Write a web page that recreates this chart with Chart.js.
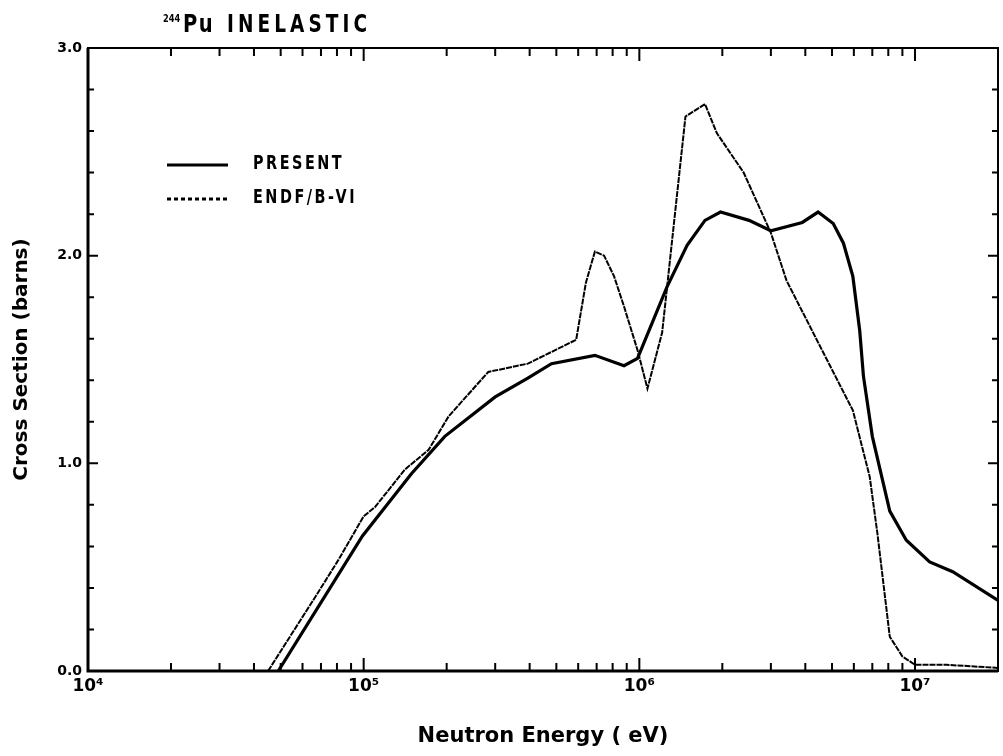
<!DOCTYPE html>
<html>
<head>
<meta charset="utf-8">
<script src="https://cdn.jsdelivr.net/npm/chart.js@4.4.1/dist/chart.umd.min.js"></script>
<style>
  html, body { margin: 0; padding: 0; background: #fff; }
  #wrap { width: 1003px; height: 756px; position: relative; }
</style>
</head>
<body>
<div id="wrap"><canvas id="chart" width="1003" height="756"></canvas></div>
<script>
// neutron energy (eV) / cross section (barns)
const presentE = [4.9e4, 9.9e4, 1.49e5, 1.97e5, 3.0e5, 3.94e5, 4.8e5, 6.9e5, 8.8e5, 9.85e5,
  1.26e6, 1.49e6, 1.73e6, 1.97e6, 2.5e6, 3.0e6, 3.9e6, 4.45e6, 5.05e6, 5.5e6, 5.95e6,
  6.3e6, 6.5e6, 7.0e6, 8.1e6, 9.3e6, 1.13e7, 1.37e7, 2.0e7];
const presentXS = [0.0, 0.65, 0.95, 1.13, 1.32, 1.41, 1.48, 1.52, 1.47, 1.505,
  1.85, 2.05, 2.17, 2.21, 2.17, 2.12, 2.16, 2.21, 2.155, 2.06, 1.90,
  1.64, 1.42, 1.13, 0.77, 0.63, 0.525, 0.478, 0.34];

const endfE = [4.5e4, 6.7e4, 8.1e4, 1.0e5, 1.1e5, 1.41e5, 1.72e5, 2.03e5, 2.83e5, 3.94e5,
  5.9e5, 6.4e5, 6.9e5, 7.45e5, 8.1e5, 8.8e5, 9.85e5, 1.07e6, 1.21e6, 1.47e6, 1.73e6,
  1.91e6, 2.39e6, 3.0e6, 3.42e6, 4.4e6, 5.95e6, 6.85e6, 7.3e6, 8.1e6, 9.0e6, 1.0e7, 1.3e7, 2.0e7];
const endfXS = [0.0, 0.36, 0.535, 0.745, 0.79, 0.97, 1.065, 1.225, 1.44, 1.48,
  1.595, 1.87, 2.02, 2.0, 1.90, 1.755, 1.545, 1.36, 1.63, 2.67, 2.73,
  2.59, 2.40, 2.11, 1.88, 1.595, 1.255, 0.935, 0.665, 0.165, 0.07, 0.03, 0.03, 0.015];

const seriesNames = ['PRESENT', 'ENDF/B-VI'];
const decadeLabels = { 4: '10\u2074', 5: '10\u2075', 6: '10\u2076', 7: '10\u2077' };

const FONT = '"DejaVu Sans", sans-serif';

function pts(xs, ys) {
  return xs.map((x, i) => ({ x: x, y: ys[i] }));
}

// narrow "plotter" text: squeeze horizontally
function narrowText(ctx, text, x, y, font, spacing, sx) {
  ctx.save();
  ctx.translate(x, y);
  ctx.scale(sx, 1);
  ctx.font = font;
  ctx.letterSpacing = spacing + 'px';
  ctx.fillText(text, 0, 0);
  ctx.restore();
}

// ticks drawn inside the frame on all four sides, plus the frame itself
const frameTicks = {
  id: 'frameTicks',
  afterDraw(chart) {
    const { ctx, chartArea: a, scales } = chart;
    ctx.save();
    ctx.strokeStyle = '#000';
    ctx.lineWidth = 2;
    ctx.strokeRect(a.left, a.top, a.right - a.left, a.bottom - a.top);
    ctx.lineWidth = 3;
    ctx.beginPath();
    ctx.moveTo(a.left, a.top); ctx.lineTo(a.left, a.bottom); ctx.lineTo(a.right, a.bottom);
    ctx.stroke();

    ctx.lineWidth = 2;
    scales.x.ticks.forEach(t => {
      const px = scales.x.getPixelForValue(t.value);
      if (px < a.left + 1 || px > a.right - 1) return;
      const len = t.major ? 13 : 8;
      ctx.beginPath();
      ctx.moveTo(px, a.bottom); ctx.lineTo(px, a.bottom - len);
      ctx.moveTo(px, a.top); ctx.lineTo(px, a.top + len);
      ctx.stroke();
    });
    scales.y.ticks.forEach(t => {
      const py = scales.y.getPixelForValue(t.value);
      if (py < a.top + 1 || py > a.bottom - 1) return;
      const len = Math.abs(t.value - Math.round(t.value)) < 1e-6 ? 10 : 6;
      ctx.beginPath();
      ctx.moveTo(a.left, py); ctx.lineTo(a.left + len, py);
      ctx.moveTo(a.right, py); ctx.lineTo(a.right - len, py);
      ctx.stroke();
    });
    ctx.restore();
  }
};

// plot title and the legend box in the upper left
const labels = {
  id: 'labels',
  afterDraw(chart) {
    const { ctx } = chart;
    ctx.save();
    ctx.fillStyle = '#000';
    ctx.textBaseline = 'alphabetic';
    narrowText(ctx, '244', 163, 22, 'bold 11px ' + FONT, 0, 0.75);
    narrowText(ctx, 'Pu', 183, 32, 'bold 25px ' + FONT, 2, 0.78);
    narrowText(ctx, 'INELASTIC', 227, 32, 'bold 25px ' + FONT, 5.5, 0.74);

    const ds = chart.data.datasets;
    const rows = [165, 199];
    ctx.textBaseline = 'middle';
    ds.forEach((d, i) => {
      ctx.strokeStyle = '#000';
      ctx.lineWidth = 3;
      ctx.setLineDash(i === 0 ? [] : [4, 3]);
      ctx.beginPath();
      ctx.moveTo(167, rows[i]); ctx.lineTo(228, rows[i]);
      ctx.stroke();
      ctx.setLineDash([]);
      narrowText(ctx, d.label, 253, rows[i] - 1, 'bold 20px ' + FONT, 3.5, 0.72);
    });
    ctx.restore();
  }
};

const ctx = document.getElementById('chart').getContext('2d');
new Chart(ctx, {
  type: 'line',
  data: {
    datasets: [
      {
        label: seriesNames[0],
        data: pts(presentE, presentXS),
        borderColor: '#000',
        borderWidth: 3.2,
        pointRadius: 0,
        tension: 0
      },
      {
        label: seriesNames[1],
        data: pts(endfE, endfXS),
        borderColor: '#000',
        borderWidth: 2,
        borderDash: [6, 1],
        pointRadius: 0,
        tension: 0
      }
    ]
  },
  options: {
    responsive: false,
    animation: false,
    layout: { padding: { top: 48, right: 5, left: 0, bottom: 0 } },
    plugins: {
      legend: { display: false },
      title: { display: false },
      tooltip: { enabled: false }
    },
    scales: {
      x: {
        type: 'logarithmic',
        min: 1e4,
        max: 2e7,
        afterBuildTicks(scale) {
          const ticks = [];
          for (let p = 4; p <= 7; p++) {
            for (let m = 1; m <= 9; m++) {
              const v = m * Math.pow(10, p);
              if (v <= 2e7) ticks.push({ value: v, major: m === 1 });
            }
          }
          scale.ticks = ticks;
        },
        afterFit(scale) { scale.height = 85; },
        grid: { display: false, drawTicks: false },
        border: { display: false },
        ticks: {
          autoSkip: false,
          maxRotation: 0,
          padding: 5,
          color: '#000',
          font: { family: FONT, size: 17, weight: 'bold' },
          callback(value) {
            const p = Math.log10(value);
            return Math.abs(p - Math.round(p)) < 1e-9 ? (decadeLabels[Math.round(p)] || '') : '';
          }
        },
        title: {
          display: true,
          text: 'Neutron Energy ( eV)',
          color: '#000',
          font: { family: FONT, size: 21, weight: 'bold' },
          padding: { top: 0, bottom: 7 }
        }
      },
      y: {
        min: 0,
        max: 3,
        afterFit(scale) { scale.width = 88; },
        grid: { display: false, drawTicks: false },
        border: { display: false },
        ticks: {
          stepSize: 0.2,
          autoSkip: false,
          padding: 6,
          color: '#000',
          font: { family: FONT, size: 14, weight: 'bold' },
          callback(value) {
            return Math.abs(value - Math.round(value)) < 1e-6 ? value.toFixed(1) : '';
          }
        },
        title: {
          display: true,
          text: 'Cross Section (barns)',
          color: '#000',
          font: { family: FONT, size: 20, weight: 'bold' },
          padding: { top: 10, bottom: 0 }
        }
      }
    }
  },
  plugins: [frameTicks, labels]
});
</script>
</body>
</html>
